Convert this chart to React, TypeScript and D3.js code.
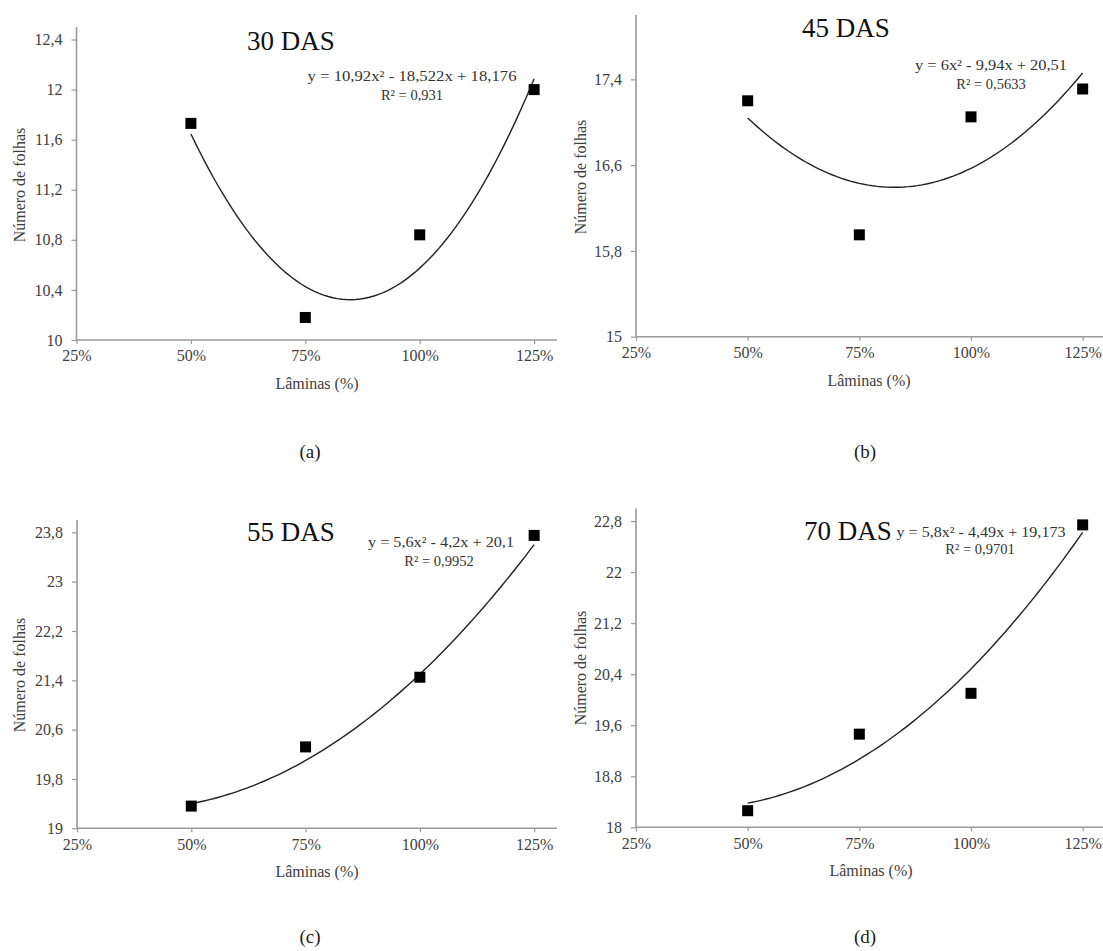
import React, { useEffect, useRef } from 'react';
import * as d3 from 'd3';

// irrigation levels (fraction of ETc) and x axis ticks
const laminas = [0.5, 0.75, 1.0, 1.25];
const xTicks = [0.25, 0.5, 0.75, 1.0, 1.25];

// number of leaves
const folhas30 = [11.73, 10.18, 10.84, 12.0];
const folhas45 = [17.2, 15.95, 17.05, 17.31];
const folhas55 = [19.36, 20.32, 21.45, 23.75];
const folhas70 = [18.26, 19.46, 20.1, 22.74];

// trendline coefficients (a, b, c) as printed on each panel
const coef30 = [10.92, -18.522, 18.176];
const coef45 = [6, -9.94, 20.51];
const coef55 = [5.6, -4.2, 20.1];
const coef70 = [5.8, -4.49, 19.173];

const yTicks30 = [10, 10.4, 10.8, 11.2, 11.6, 12, 12.4];
const yTicks45 = [15, 15.8, 16.6, 17.4];
const yTicks55 = [19, 19.8, 20.6, 21.4, 22.2, 23, 23.8];
const yTicks70 = [18, 18.8, 19.6, 20.4, 21.2, 22, 22.8];

const yDomain30 = [10, 12.5];
const yDomain45 = [15, 18];
const yDomain55 = [19, 24];
const yDomain70 = [18, 23];
const xDomain = [0.25, 1.3];

const titles = ['30 DAS', '45 DAS', '55 DAS', '70 DAS'];
const equations = [
  'y = 10,92x² - 18,522x  + 18,176',
  'y = 6x² - 9,94x  + 20,51',
  'y = 5,6x² - 4,2x + 20,1',
  'y = 5,8x² - 4,49x  + 19,173',
];
const r2Labels = ['R² = 0,931', 'R² = 0,5633', 'R² = 0,9952', 'R² = 0,9701'];
const panelLetters = ['(a)', '(b)', '(c)', '(d)'];

const FONT = "'Liberation Serif', 'DejaVu Serif', serif";

export default function App() {
  const svgRef = useRef<SVGSVGElement>(null);

  useEffect(() => {
    const width = 1103;
    const height = 951;
    const svg = d3.select(svgRef.current).attr('width', width).attr('height', height);
    svg.selectAll('*').remove();

    const series = [folhas30, folhas45, folhas55, folhas70];
    const coefs = [coef30, coef45, coef55, coef70];
    const yTicks = [yTicks30, yTicks45, yTicks55, yTicks70];
    const yDomains = [yDomain30, yDomain45, yDomain55, yDomain70];

    // panel geometry
    const layout = [
      { x0: 76.5, x1: 557, y0: 340, y1: 27, title: [291, 50], eq: [412, 81, 209], r2: [412, 100], yl: [19, 185], xl: 317, letter: [310, 458] },
      { x0: 636, x1: 1105, y0: 336.7, y1: 15, title: [846, 37], eq: [991, 70, 152], r2: [991, 89], yl: [580, 177], xl: 869, letter: [865, 458] },
      { x0: 77, x1: 557, y0: 828.3, y1: 520, title: [291, 541], eq: [441, 547, 146], r2: [439, 566], yl: [19, 675], xl: 317, letter: [310, 943] },
      { x0: 636, x1: 1105, y0: 827.3, y1: 508.3, title: [848, 540], eq: [981, 537, 169], r2: [980, 554], yl: [580, 668], xl: 871, letter: [865, 943] },
    ];

    const fmtY = (d: number) => String(+d.toFixed(1)).replace('.', ',');
    const fmtX = (d: number) => `${Math.round(d * 100)}%`;

    layout.forEach((L, i) => {
      const x = d3.scaleLinear().domain(xDomain).range([L.x0, L.x1]);
      const y = d3.scaleLinear().domain(yDomains[i]).range([L.y0, L.y1]);
      const g = svg.append('g').attr('font-family', FONT);

      // y axis
      const yAxis = g.append('g')
        .attr('transform', `translate(${L.x0},0)`)
        .call(d3.axisLeft(y).tickValues(yTicks[i]).tickSize(5).tickPadding(9).tickFormat(fmtY as any))
        .attr('font-family', FONT)
        .attr('font-size', 16);
      yAxis.select('.domain').attr('stroke', '#9a9a9a').attr('stroke-width', 1.6).attr('d', `M0,${L.y0}V${L.y1}`);
      yAxis.selectAll('.tick line').attr('stroke', '#9a9a9a').attr('stroke-width', 1.2);
      yAxis.selectAll('.tick text').attr('fill', '#404040');

      // x axis
      const xAxis = g.append('g')
        .attr('transform', `translate(0,${L.y0})`)
        .call(d3.axisBottom(x).tickValues(xTicks).tickSize(4).tickPadding(6).tickFormat(fmtX as any))
        .attr('font-family', FONT)
        .attr('font-size', 16);
      xAxis.select('.domain').attr('stroke', '#9a9a9a').attr('stroke-width', 1.6).attr('d', `M${L.x0},0H${L.x1}`);
      xAxis.selectAll('.tick line').attr('stroke', '#9a9a9a').attr('stroke-width', 1.2);
      xAxis.selectAll('.tick text').attr('fill', '#404040');

      // trendline
      const [a, b, c] = coefs[i];
      const xs = d3.range(laminas[0], laminas[laminas.length - 1] + 0.0001, 0.01);
      const line = d3.line<number>().x(d => x(d)).y(d => y(a * d * d + b * d + c));
      g.append('path').datum(xs).attr('d', line).attr('fill', 'none').attr('stroke', '#222').attr('stroke-width', 1.4);

      // points
      g.selectAll('rect.pt')
        .data(laminas.map((l, k) => ({ l, v: series[i][k] })))
        .enter()
        .append('rect')
        .attr('class', 'pt')
        .attr('x', d => x(d.l) - 5.5)
        .attr('y', d => y(d.v) - 5.5)
        .attr('width', 11)
        .attr('height', 11)
        .attr('fill', '#000');

      // texts
      g.append('text').attr('x', L.title[0]).attr('y', L.title[1]).attr('text-anchor', 'middle')
        .attr('font-size', 27).attr('fill', '#111').text(titles[i]);
      g.append('text').attr('x', L.eq[0]).attr('y', L.eq[1]).attr('text-anchor', 'middle')
        .attr('textLength', L.eq[2]).attr('lengthAdjust', 'spacingAndGlyphs')
        .attr('font-size', 14).attr('fill', '#333').text(equations[i]);
      g.append('text').attr('x', L.r2[0]).attr('y', L.r2[1]).attr('text-anchor', 'middle')
        .attr('font-size', 14.5).attr('fill', '#333').text(r2Labels[i]);
      g.append('text').attr('transform', `translate(${L.yl[0]},${L.yl[1]}) rotate(-90)`)
        .attr('text-anchor', 'middle').attr('dy', '0.35em')
        .attr('font-size', 16).attr('fill', '#404040').text('Número de folhas');
      g.append('text').attr('x', L.xl).attr('y', L.y0 + 49).attr('text-anchor', 'middle')
        .attr('font-size', 16).attr('fill', '#404040').text('Lâminas (%)');
      g.append('text').attr('x', L.letter[0]).attr('y', L.letter[1]).attr('text-anchor', 'middle')
        .attr('font-size', 19).attr('fill', '#222').text(panelLetters[i]);
    });
  }, []);

  return <svg ref={svgRef} style={{ position: 'absolute', left: 0, top: 0, background: '#fff' }}></svg>;
}
